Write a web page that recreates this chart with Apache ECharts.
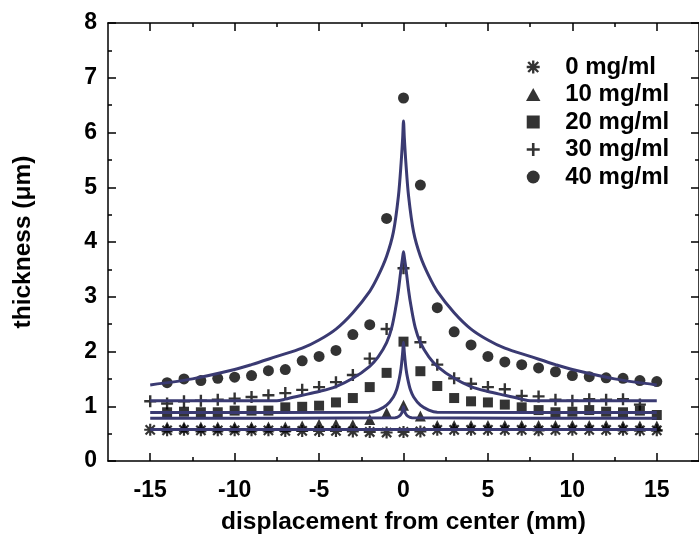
<!DOCTYPE html>
<html><head><meta charset="utf-8">
<script src="https://cdn.jsdelivr.net/npm/echarts@6/dist/echarts.min.js"></script>
<style>html,body{margin:0;padding:0;background:#fff}#c{width:699px;height:542px}</style>
</head><body><div id="c"></div>
<script>
// ---- data ----
const seriesNames = ['0 mg/ml', '10 mg/ml', '20 mg/ml', '30 mg/ml', '40 mg/ml'];
const xTickLabels = [-15, -10, -5, 0, 5, 10, 15];
const xMinorTicks = [-12.5, -7.5, -2.5, 2.5, 7.5, 12.5];

// 0 mg/ml (asterisks)
const x0 = [-15,-14,-13,-12,-11,-10,-9,-8,-7,-6,-5,-4,-3,-2,-1,0,1,2,3,4,5,6,7,8,9,10,11,12,13,14,15];
const y0 = [0.57,0.56,0.57,0.56,0.56,0.56,0.56,0.56,0.55,0.55,0.55,0.55,0.54,0.53,0.52,0.53,0.54,0.57,0.57,0.57,0.57,0.57,0.57,0.56,0.57,0.57,0.57,0.57,0.57,0.56,0.56];
// 10 mg/ml (triangles)
const x10 = [-14,-13,-12,-11,-10,-9,-8,-7,-6,-5,-4,-3,-2,-1,0,1,2,3,4,5,6,7,8,9,10,11,12,13,14,15];
const y10 = [0.62,0.62,0.62,0.62,0.62,0.62,0.62,0.62,0.64,0.67,0.67,0.66,0.76,0.88,1.02,0.82,0.65,0.65,0.65,0.65,0.65,0.65,0.65,0.65,0.65,0.65,0.65,0.64,0.64,0.64];
// 20 mg/ml (squares)
const x20 = [-14,-13,-12,-11,-10,-9,-8,-7,-6,-5,-4,-3,-2,-1,0,1,2,3,4,5,6,7,8,9,10,11,12,13,14,15];
const y20 = [0.89,0.90,0.89,0.89,0.92,0.92,0.92,0.98,0.99,1.01,1.07,1.15,1.35,1.61,2.18,1.64,1.37,1.15,1.09,1.07,1.03,0.98,0.93,0.89,0.90,0.93,0.90,0.89,0.92,0.84];
// 30 mg/ml (plus)
const x30 = [-15,-14,-13,-12,-11,-10,-9,-8,-7,-6,-5,-4,-3,-2,-1,0,1,2,3,4,5,6,7,8,9,10,11,12,13,14];
const y30 = [1.09,1.05,1.09,1.10,1.12,1.14,1.17,1.20,1.24,1.30,1.35,1.44,1.57,1.87,2.41,3.52,2.17,1.76,1.51,1.41,1.35,1.31,1.19,1.18,1.12,1.10,1.13,1.12,1.13,1.03];
// 40 mg/ml (circles)
const x40 = [-14,-13,-12,-11,-10,-9,-8,-7,-6,-5,-4,-3,-2,-1,0,1,2,3,4,5,6,7,8,9,10,11,12,13,14,15];
const y40 = [1.43,1.50,1.47,1.51,1.53,1.56,1.65,1.67,1.83,1.91,2.02,2.31,2.49,4.43,6.63,5.04,2.80,2.36,2.12,1.91,1.81,1.76,1.70,1.63,1.56,1.54,1.52,1.51,1.47,1.45];

// fitted curves
const fit0X = [-15, 15];
const fit0Y = [0.575, 0.575];
const fit10X = [-15,-0.5,-0.25,-0.1,-0.03,0,0.03,0.1,0.25,0.5,15];
const fit10Y = [0.78,0.79,0.82,0.88,0.95,0.99,0.95,0.88,0.82,0.79,0.78];
const fit20X = [-15,-2,-1.5,-1,-0.6,-0.4,-0.25,-0.15,-0.05,0,0.05,0.15,0.25,0.4,0.6,1,1.5,2,15];
const fit20Y = [0.885,0.89,0.93,1.02,1.17,1.31,1.50,1.68,1.98,2.17,1.98,1.68,1.50,1.31,1.17,1.02,0.93,0.89,0.885];
const fit30X = [-15,-7.5,-7,-6,-5,-4,-3,-2,-1.5,-1,-0.7,-0.45,-0.3,-0.15,-0.05,0,0.05,0.15,0.3,0.45,0.7,1,1.5,2,3,4,5,6,7,7.5,15];
const fit30Y = [1.10,1.10,1.13,1.20,1.27,1.36,1.51,1.73,1.90,2.16,2.43,2.82,3.12,3.50,3.72,3.82,3.72,3.50,3.12,2.82,2.43,2.16,1.90,1.73,1.51,1.36,1.27,1.20,1.13,1.10,1.10];
const fit40X = [-15,-12.5,-10,-9,-7.5,-6,-5,-4,-3,-2,-1.5,-1,-0.6,-0.3,-0.14,-0.05,0,0.05,0.14,0.3,0.6,1,1.5,2,3,4,5,6,7.5,9,10,12.5,15];
const fit40Y = [1.39,1.50,1.67,1.76,1.91,2.06,2.21,2.41,2.71,3.10,3.38,3.74,4.18,4.84,5.45,5.90,6.21,5.90,5.45,4.84,4.18,3.74,3.38,3.10,2.71,2.41,2.21,2.06,1.91,1.76,1.67,1.50,1.39];

// ---- chart ----
const FONT = '"Liberation Sans", Arial, Helvetica, sans-serif';
const pairs = (xs, ys) => xs.map((x, i) => [x, ys[i]]);
const symAst = 'path://M0,41L100,41L100,59L0,59Z M41,0L59,0L59,100L41,100Z M18,5L95,82L82,95L5,18Z M82,5L95,18L18,95L5,82Z';
const symPlus = 'path://M40,0L60,0L60,40L100,40L100,60L60,60L60,100L40,100L40,60L0,60L0,40L40,40Z';
const symTri = 'path://M50,0L100,90L0,90Z';
const symSq = 'path://M0,0L100,0L100,100L0,100Z';
const symCirc = 'path://M50,0A50,50,0,1,1,50,100A50,50,0,1,1,50,0Z';
const LINE = '#3a3a72';
const black = {color: '#000', width: 1.5};

const scatterDefs = [
  [x0, y0, symAst, 12],
  [x10, y10, symTri, 11],
  [x20, y20, symSq, 10],
  [x30, y30, symPlus, 12],
  [x40, y40, 'circle', 11]
];
const legendIcons = [symAst, symTri, symSq, symPlus, symCirc];
const fits = [[fit0X, fit0Y], [fit10X, fit10Y], [fit20X, fit20Y], [fit30X, fit30Y], [fit40X, fit40Y]];

const series = [];
scatterDefs.forEach((d, i) => {
  series.push({
    name: seriesNames[i], type: 'scatter', xAxisIndex: 0, yAxisIndex: 0,
    symbol: d[2], symbolSize: d[3], itemStyle: {color: '#000'},
    data: pairs(d[0], d[1]), z: 2
  });
});
fits.forEach((f, i) => {
  series.push({
    name: 'fit ' + seriesNames[i], type: 'line', xAxisIndex: 0, yAxisIndex: 0,
    showSymbol: false, symbol: 'none', smooth: 0.3,
    lineStyle: {color: LINE, width: 3}, data: pairs(f[0], f[1]), z: 3
  });
});

const xBase = {type: 'value', min: -17.5, max: 17.5, splitLine: {show: false}};
const option = {
  animation: false,
  backgroundColor: '#fff',
  grid: [
    {left: 108, right: 0, top: 23, bottom: 81},
    {left: 108, right: 0, top: 23, bottom: 81}
  ],
  legend: {
    data: seriesNames.map((n, i) => ({name: n, icon: legendIcons[i]})),
    orient: 'vertical', left: 521, top: 50, itemWidth: 54, itemHeight: 13, itemGap: 3.5,
    selectedMode: false,
    textStyle: {fontSize: 24, fontWeight: 'bold', color: '#000', fontFamily: FONT}
  },
  xAxis: [
    Object.assign({}, xBase, {
      gridIndex: 0, position: 'bottom',
      axisLine: {onZero: false, lineStyle: black},
      axisTick: {inside: true, length: 8, customValues: xTickLabels, lineStyle: black},
      axisLabel: {customValues: xTickLabels, fontSize: 23, fontWeight: 'bold', color: '#000', margin: 18, fontFamily: FONT},
      name: 'displacement from center (mm)', nameLocation: 'middle', nameGap: 49,
      nameTextStyle: {fontSize: 24.5, fontWeight: 'bold', color: '#000', fontFamily: FONT}
    }),
    Object.assign({}, xBase, {
      gridIndex: 0, position: 'top',
      axisLine: {onZero: false, lineStyle: black},
      axisTick: {inside: true, length: 8, customValues: xTickLabels, lineStyle: black},
      axisLabel: {show: false}
    }),
    Object.assign({}, xBase, {
      gridIndex: 1, position: 'bottom',
      axisLine: {show: false, onZero: false},
      axisTick: {inside: true, length: 4, customValues: xMinorTicks, lineStyle: black},
      axisLabel: {show: false}
    }),
    Object.assign({}, xBase, {
      gridIndex: 1, position: 'top',
      axisLine: {show: false, onZero: false},
      axisTick: {inside: true, length: 4, customValues: xMinorTicks, lineStyle: black},
      axisLabel: {show: false}
    })
  ],
  yAxis: [
    {
      gridIndex: 0, type: 'value', position: 'left', min: 0, max: 8, interval: 1,
      axisLine: {show: true, onZero: false, lineStyle: black},
      axisTick: {show: true, inside: true, length: 8, lineStyle: black},
      minorTick: {show: true, splitNumber: 2, length: 4, lineStyle: black},
      splitLine: {show: false}, minorSplitLine: {show: false},
      axisLabel: {fontSize: 23, fontWeight: 'bold', color: '#000', margin: 11, fontFamily: FONT},
      name: 'thickness (\u03bcm)', nameLocation: 'middle', nameGap: 72,
      nameTextStyle: {fontSize: 24.5, fontWeight: 'bold', color: '#000', fontFamily: FONT}
    },
    {
      gridIndex: 0, type: 'value', position: 'right', min: 0, max: 8, interval: 1,
      axisLine: {show: true, onZero: false, lineStyle: black},
      axisTick: {show: true, inside: true, length: 8, lineStyle: black},
      minorTick: {show: true, splitNumber: 2, length: 4, lineStyle: black},
      splitLine: {show: false}, minorSplitLine: {show: false},
      axisLabel: {show: false}
    },
    {gridIndex: 1, type: 'value', min: 0, max: 8, show: false, splitLine: {show: false}}
  ],
  series: series
};
const chart = echarts.init(document.getElementById('c'));
chart.setOption(option);
</script>
</body></html>
